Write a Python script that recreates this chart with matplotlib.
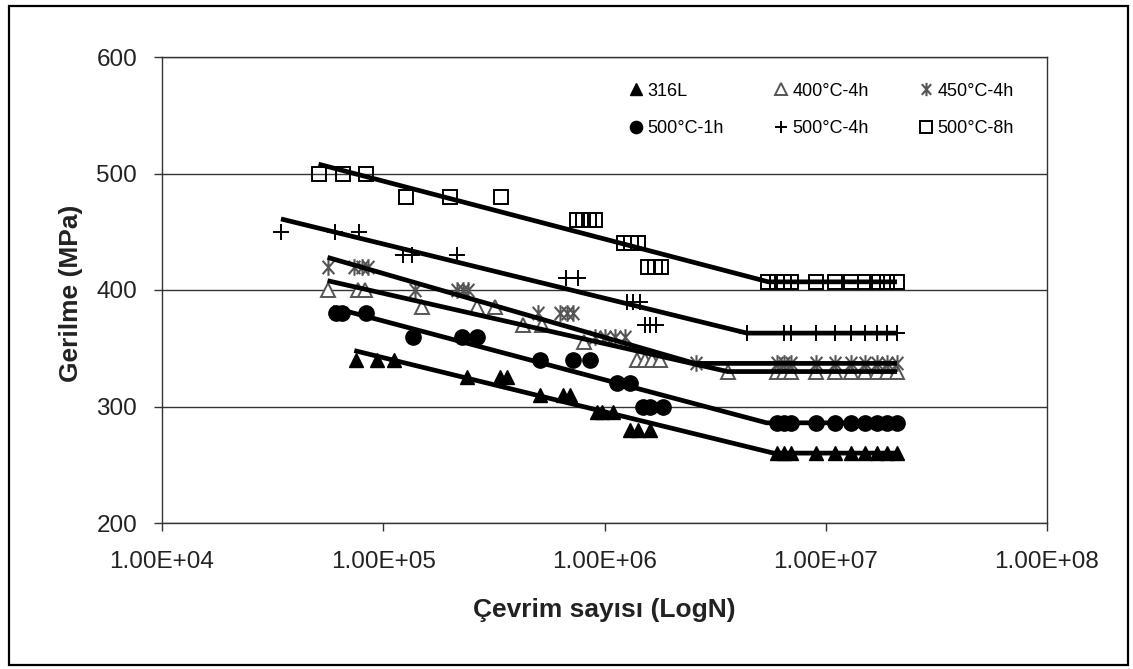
import numpy as np
import matplotlib.pyplot as plt
from matplotlib.path import Path
from matplotlib.patches import Rectangle
from matplotlib.ticker import FixedLocator, NullLocator

plt.rcParams['font.family'] = ['Liberation Sans', 'DejaVu Sans']

# --- data (N = cycles, S = stress in MPa) ---
s316_N = [7.5e4, 9.4e4, 1.12e5, 2.39e5, 3.37e5, 3.62e5, 5.1e5, 6.5e5, 7.0e5,
          9.25e5, 9.75e5, 1.09e6, 1.30e6, 1.42e6, 1.60e6,
          6.0e6, 6.5e6, 7.0e6, 9.0e6, 1.1e7, 1.3e7, 1.5e7, 1.7e7, 1.9e7, 2.1e7]
s316_S = [340, 340, 340, 325, 325, 325, 310, 310, 310, 295, 295, 295, 280, 280, 280,
          260, 260, 260, 260, 260, 260, 260, 260, 260, 260]

s400_N = [5.6e4, 7.7e4, 8.3e4, 1.5e5, 2.65e5, 3.2e5, 4.3e5, 5.2e5, 8.1e5,
          1.40e6, 1.52e6, 1.64e6, 1.78e6, 3.6e6,
          6.0e6, 6.5e6, 7.0e6, 9.0e6, 1.1e7, 1.3e7, 1.5e7, 1.7e7, 1.9e7, 2.1e7]
s400_S = [400, 400, 400, 385, 385, 385, 370, 370, 355, 340, 340, 340, 340, 330,
          330, 330, 330, 330, 330, 330, 330, 330, 330, 330]

s450_N = [5.6e4, 7.4e4, 8.0e4, 8.5e4, 1.39e5, 2.15e5, 2.29e5, 2.41e5,
          5.0e5, 6.3e5, 6.8e5, 7.2e5, 9.1e5, 1.0e6, 1.11e6, 1.24e6, 2.6e6,
          6.0e6, 6.5e6, 7.0e6, 9.0e6, 1.1e7, 1.3e7, 1.5e7, 1.7e7, 1.9e7, 2.1e7]
s450_S = [420, 420, 420, 420, 400, 400, 400, 400, 380, 380, 380, 380,
          360, 360, 360, 360, 337,
          337, 337, 337, 337, 337, 337, 337, 337, 337, 337]

s1h_N = [6.1e4, 6.5e4, 8.4e4, 1.36e5, 2.27e5, 2.65e5, 5.1e5, 7.2e5, 8.6e5,
         1.14e6, 1.30e6, 1.49e6, 1.60e6, 1.83e6,
         6.0e6, 6.5e6, 7.0e6, 9.0e6, 1.1e7, 1.3e7, 1.5e7, 1.7e7, 1.9e7, 2.1e7]
s1h_S = [380, 380, 380, 360, 360, 360, 340, 340, 340, 320, 320, 300, 300, 300,
         286, 286, 286, 286, 286, 286, 286, 286, 286, 286]

s4h_N = [3.45e4, 6.05e4, 7.8e4, 1.23e5, 1.35e5, 2.15e5, 6.7e5, 7.6e5,
         1.26e6, 1.34e6, 1.44e6, 1.52e6, 1.60e6, 1.71e6, 4.4e6,
         6.5e6, 7.0e6, 9.0e6, 1.1e7, 1.3e7, 1.5e7, 1.7e7, 1.9e7, 2.1e7]
s4h_S = [450, 450, 450, 430, 430, 430, 410, 410, 390, 390, 390, 370, 370, 370, 363,
         363, 363, 363, 363, 363, 363, 363, 363, 363]

s8h_N = [5.1e4, 6.6e4, 8.4e4, 1.27e5, 2.0e5, 3.4e5, 7.5e5, 8.0e5, 8.5e5, 9.1e5,
         1.22e6, 1.32e6, 1.42e6, 1.57e6, 1.69e6, 1.80e6,
         5.5e6, 6.0e6, 6.5e6, 7.0e6, 9.0e6, 1.1e7, 1.3e7, 1.5e7, 1.7e7, 1.9e7, 2.1e7]
s8h_S = [500, 500, 500, 480, 480, 480, 460, 460, 460, 460, 440, 440, 440, 420, 420, 420,
         407, 407, 407, 407, 407, 407, 407, 407, 407, 407, 407]

# fitted S-N lines: start, knee, end of run-out plateau
fit316_N, fit316_S = [7.4e4, 5.8e6, 2.1e7], [348, 260, 260]
fit400_N, fit400_S = [5.6e4, 3.6e6, 2.1e7], [408, 330, 330]
fit450_N, fit450_S = [5.6e4, 2.56e6, 2.1e7], [428, 337, 337]
fit1h_N, fit1h_S = [5.9e4, 5.4e6, 2.1e7], [385, 286, 286]
fit4h_N, fit4h_S = [3.45e4, 4.4e6, 2.1e7], [461, 363, 363]
fit8h_N, fit8h_S = [5.1e4, 5.5e6, 2.1e7], [508, 407, 407]

xticks = [1e4, 1e5, 1e6, 1e7, 1e8]
xtick_labels = ['1.00E+04', '1.00E+05', '1.00E+06', '1.00E+07', '1.00E+08']
yticks = [200, 300, 400, 500, 600]

# asterisk marker like Excel's
star = Path([(0, -1), (0, 1), (-0.7, -0.8), (0.7, 0.8), (-0.7, 0.8), (0.7, -0.8)],
            [Path.MOVETO, Path.LINETO, Path.MOVETO, Path.LINETO, Path.MOVETO, Path.LINETO])

fig = plt.figure(figsize=(11.33, 6.69), dpi=100)
W, H = 1133, 669
ax = fig.add_axes([162 / W, 1 - 523 / H, 885 / W, 466 / H])

grey = '#555555'
h316, = ax.plot(s316_N, s316_S, ls='none', marker='^', ms=10, color='black', zorder=2)
h400, = ax.plot(s400_N, s400_S, ls='none', marker='^', ms=10, mfc='white', mec=grey,
                mew=1.4, zorder=2)
h450, = ax.plot(s450_N, s450_S, ls='none', marker=star, ms=12, mec=grey, mew=1.5, zorder=2)
h1h, = ax.plot(s1h_N, s1h_S, ls='none', marker='o', ms=11, color='black', zorder=2)
h4h, = ax.plot(s4h_N, s4h_S, ls='none', marker='+', ms=11, mec='black', mew=1.4, zorder=2)
h8h, = ax.plot(s8h_N, s8h_S, ls='none', marker='s', ms=10, mfc='none', mec='black',
               mew=1.4, zorder=2)

for fn, fs in [(fit316_N, fit316_S), (fit400_N, fit400_S), (fit450_N, fit450_S),
               (fit1h_N, fit1h_S), (fit4h_N, fit4h_S), (fit8h_N, fit8h_S)]:
    ax.plot(fn, fs, color='black', lw=3.4, solid_capstyle='butt', zorder=3)

ax.set_xscale('log')
ax.set_xlim(1e4, 1e8)
ax.set_ylim(200, 600)
ax.xaxis.set_major_locator(FixedLocator(xticks))
ax.xaxis.set_minor_locator(NullLocator())
ax.set_xticklabels(xtick_labels)
ax.set_yticks(yticks)
ax.tick_params(axis='both', direction='out', length=6, width=1, color='#333333',
               labelsize=17.5, labelcolor='#222222')
ax.tick_params(axis='y', pad=12)
ax.tick_params(axis='x', pad=14)
ax.yaxis.grid(True, color='#333333', lw=1)
ax.set_axisbelow(True)
for sp in ax.spines.values():
    sp.set_color('#333333')
    sp.set_linewidth(1)

fig.text(604.5 / W, 1 - 617 / H, 'Çevrim sayısı (LogN)', ha='center', va='baseline',
         fontsize=19, fontweight='bold', color='#222222')
fig.text(71 / W, 1 - 293 / H, 'Gerilme (MPa)', ha='center', va='center', rotation=90,
         fontsize=19, fontweight='bold', color='#222222')

handles = [h316, h1h, h400, h4h, h450, h8h]
labels = ['316L', '500°C-1h', '400°C-4h', '500°C-4h', '450°C-4h', '500°C-8h']
ax.legend(handles, labels, ncol=3, loc='upper left', bbox_to_anchor=(0.5275, 0.945),
          frameon=False, fontsize=13, borderpad=0, handlelength=0.8, handletextpad=0.25,
          columnspacing=2.75, labelspacing=1.12, markerscale=0.8, borderaxespad=0)

fig.patches.append(Rectangle((8.5 / W, 1 - 665 / H), (1128 - 8.5) / W, (665 - 5.5) / H,
                             transform=fig.transFigure, fill=False, ec='black', lw=1.6))

fig.savefig('out.png', dpi=100)
